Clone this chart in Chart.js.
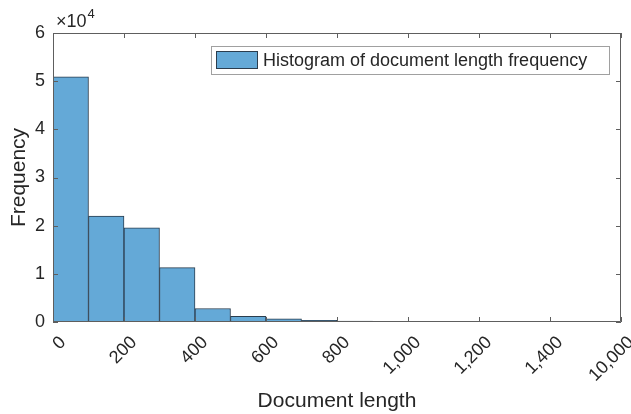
<!DOCTYPE html>
<html>
<head>
<meta charset="utf-8">
<script src="https://cdn.jsdelivr.net/npm/chart.js@4"></script>
<style>
    html, body { margin: 0; padding: 0; background: #fff; }
    #wrap { width: 631px; height: 414px; }
</style>
</head>
<body>
<div id="wrap"><canvas id="histChart" width="631" height="414"></canvas></div>
<script>
// histogram bins (the last bin 1500-10000 is squeezed into one slot on the axis)
const binLabels = ["0-100", "100-200", "200-300", "300-400", "400-500", "500-600", "600-700", "700-800",
    "800-900", "900-1000", "1000-1100", "1100-1200", "1200-1300", "1300-1400", "1400-1500", "1500-10000"];
const binSlots = [50, 150, 250, 350, 450, 550, 650, 750, 850, 950, 1050, 1150, 1250, 1350, 1450, 1550];
const binCounts = [50900, 22000, 19550, 11300, 2800, 1200, 650, 350, 180, 90, 60, 40, 30, 20, 15, 40];

const xTickValues = [0, 200, 400, 600, 800, 1000, 1200, 1400, 1600];
const xTickLabels = ["0", "200", "400", "600", "800", "1,000", "1,200", "1,400", "10,000"];
const yTickLabels = ["0", "1", "2", "3", "4", "5", "6"];

const seriesLabel = "Histogram of document length frequency";
const FONT = "'Liberation Sans', Arial, Helvetica, sans-serif";
const TEXT = "#262626";
const AXIS = "#5e5e5e";
const FILL = "rgb(100,169,215)";
const EDGE = "#2a3d4e";

// MATLAB-like box: four sides, ticks pointing inward, exponent note, legend
const boxPlugin = {
    id: "matlabBox",
    afterDraw(chart) {
        const ctx = chart.ctx;
        const a = chart.chartArea;
        const xs = chart.scales.x;
        const ys = chart.scales.y;
        const tl = 5;
        ctx.save();
        ctx.strokeStyle = AXIS;
        ctx.lineWidth = 1;
        ctx.beginPath();
        ctx.rect(a.left + 0.5, a.top + 0.5, a.right - a.left - 1, a.bottom - a.top - 1);
        xTickValues.forEach(v => {
            const px = Math.round(xs.getPixelForValue(v)) + 0.5;
            ctx.moveTo(px, a.bottom);
            ctx.lineTo(px, a.bottom - tl);
            ctx.moveTo(px, a.top);
            ctx.lineTo(px, a.top + tl);
        });
        yTickLabels.forEach((t, i) => {
            const py = Math.round(ys.getPixelForValue(i * 10000)) + 0.5;
            ctx.moveTo(a.left, py);
            ctx.lineTo(a.left + tl, py);
            ctx.moveTo(a.right, py);
            ctx.lineTo(a.right - tl, py);
        });
        ctx.stroke();

        // exponent
        ctx.fillStyle = TEXT;
        ctx.textBaseline = "alphabetic";
        ctx.textAlign = "left";
        ctx.font = "18px " + FONT;
        ctx.fillText("\u00d710", a.left + 3, a.top - 6);
        const w = ctx.measureText("\u00d710").width;
        ctx.font = "13px " + FONT;
        ctx.fillText("4", a.left + 3 + w + 1, a.top - 15);

        // legend
        const ds = chart.data.datasets[0];
        const lx = 211, ly = 46, lw = 398, lh = 28;
        ctx.fillStyle = "#fff";
        ctx.fillRect(lx, ly, lw, lh);
        ctx.strokeStyle = "#a0a0a0";
        ctx.strokeRect(lx + 0.5, ly + 0.5, lw, lh);
        ctx.fillStyle = ds.backgroundColor;
        ctx.fillRect(216, 51, 42, 18);
        ctx.strokeStyle = ds.borderColor;
        ctx.strokeRect(216.5, 51.5, 41, 17);
        ctx.fillStyle = TEXT;
        ctx.font = "18px " + FONT;
        ctx.textBaseline = "middle";
        ctx.fillText(ds.label, 263, 61);
        ctx.restore();
    }
};

new Chart(document.getElementById("histChart"), {
    type: "bar",
    data: {
        datasets: [{
            label: seriesLabel,
            data: binSlots.map((x, i) => ({ x: x, y: binCounts[i], bin: binLabels[i] })),
            backgroundColor: FILL,
            borderColor: EDGE,
            borderWidth: 1,
            barPercentage: 1,
            categoryPercentage: 1
        }]
    },
    options: {
        responsive: false,
        animation: false,
        layout: { padding: { top: 33, right: 10, left: 0, bottom: 0 } },
        plugins: { legend: { display: false }, tooltip: { enabled: false } },
        scales: {
            x: {
                type: "linear",
                min: 0,
                max: 1600,
                offset: false,
                afterFit: s => { s.height = 92; s.paddingLeft = 0; s.paddingRight = 0; },
                afterBuildTicks: s => { s.ticks = xTickValues.map(v => ({ value: v })); },
                grid: { display: false, drawTicks: false, offset: false },
                border: { display: false },
                ticks: {
                    minRotation: 45,
                    maxRotation: 45,
                    padding: 10,
                    labelOffset: 10,
                    color: TEXT,
                    font: { family: FONT, size: 18 },
                    callback: (v, i) => xTickLabels[i]
                },
                title: {
                    display: true,
                    text: "Document length",
                    color: TEXT,
                    font: { family: FONT, size: 21 },
                    padding: { top: 1, bottom: 0 }
                }
            },
            y: {
                min: 0,
                max: 60000,
                afterFit: s => { s.width = 53; s.paddingTop = 0; s.paddingBottom = 0; },
                afterBuildTicks: s => { s.ticks = yTickLabels.map((t, i) => ({ value: i * 10000 })); },
                grid: { display: false, drawTicks: false },
                border: { display: false },
                ticks: {
                    padding: 8,
                    color: TEXT,
                    font: { family: FONT, size: 18 },
                    callback: (v, i) => yTickLabels[i]
                },
                title: {
                    display: true,
                    text: "Frequency",
                    color: TEXT,
                    font: { family: FONT, size: 21 },
                    padding: { top: 7, bottom: 0 }
                }
            }
        }
    },
    plugins: [boxPlugin]
});
</script>
</body>
</html>
